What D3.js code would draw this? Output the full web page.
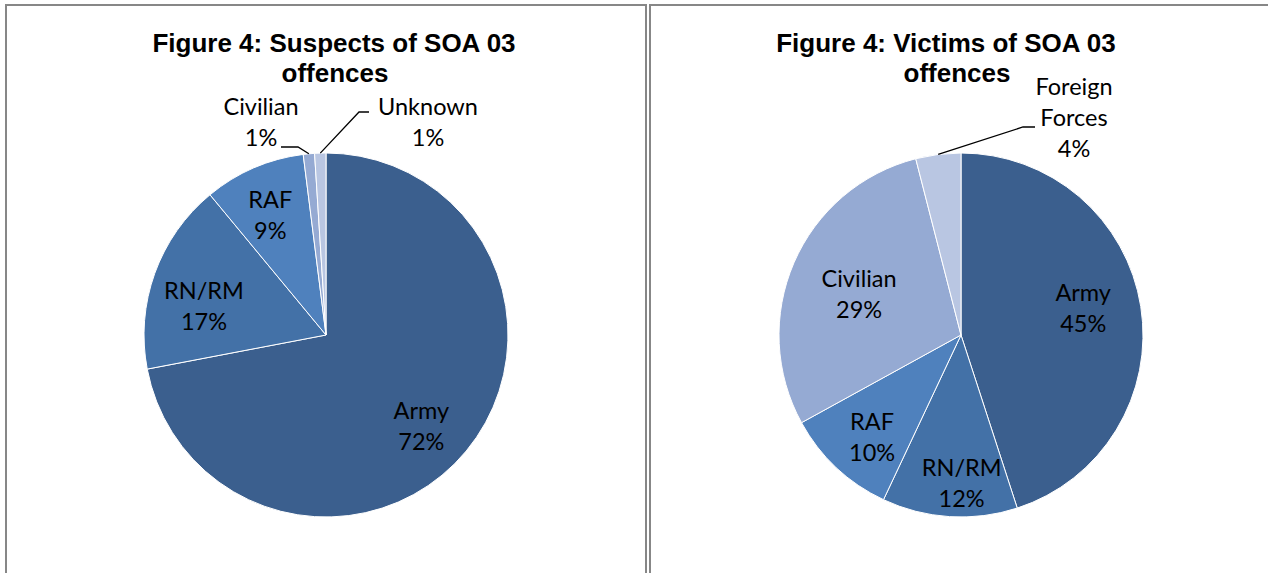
<!DOCTYPE html>
<html>
<head>
<meta charset="utf-8">
<script src="https://cdn.jsdelivr.net/npm/d3@7"></script>
<style>
  body { margin: 0; background: #fff; }
  .title { font-family: "Liberation Sans", Arial, sans-serif; font-weight: bold; font-size: 26px; fill: #000; }
  .lbl { font-family: Lato, "Open Sans", sans-serif; font-size: 23.5px; fill: #000; }
</style>
</head>
<body>
<svg id="chart" width="1268" height="573"></svg>
<script>
// Suspects chart
var suspectCats = ["Army", "RN/RM", "RAF", "Civilian", "Unknown"];
var suspectVals = [72, 17, 9, 1, 1];
// Victims chart
var victimCats = ["Army", "RN/RM", "RAF", "Civilian", "Foreign Forces"];
var victimVals = [45, 12, 10, 29, 4];

var colors = ["#3b5f8e", "#4371a7", "#4f81bd", "#95aad3", "#b9c6e2"];

var svg = d3.select("#chart");
var radius = 182;
var cy = 335;

// panel frames; nudge = small best-fit shifts of the inside labels
var panels = [
  { x: 6, w: 640, title: ["Figure 4: Suspects of SOA 03", "offences"], tx: [334, 335], cx: 326,
    cats: suspectCats, vals: suspectVals,
    nudge: [[-7, 6], [3, 16], [-3, 2]],
    outside: {
      "Civilian": { lx: -65, ly: -220, leader: [[-45, -188], [-28, -188]] },
      "Unknown":  { lx: 102, ly: -220, leader: [[43, -223], [33, -223]] }
    } },
  { x: 650, w: 640, title: ["Figure 4: Victims of SOA 03", "offences"], tx: [946, 957], cx: 961,
    cats: victimCats, vals: victimVals,
    nudge: [[-9, -6], [9, 15], [2, 5], [20, 12]],
    outside: {
      "Foreign Forces": { lx: 113, ly: -240, leader: [[74, -208], [62, -208]] }
    } }
];

panels.forEach(function(p) {
  svg.append("rect")
    .attr("x", p.x).attr("y", 5)
    .attr("width", p.w).attr("height", 600)
    .attr("fill", "none")
    .attr("stroke", "#878787")
    .attr("stroke-width", 2);

  var t = svg.append("text").attr("class", "title").attr("text-anchor", "middle");
  t.selectAll("tspan").data(p.title).enter().append("tspan")
    .attr("x", function(d, i) { return p.tx[i]; })
    .attr("y", function(d, i) { return 52 + i * 30; })
    .text(function(d) { return d; });

  var data = p.cats.map(function(c, i) { return { name: c, value: p.vals[i], color: colors[i] }; });
  var pie = d3.pie().sort(null).value(function(d) { return d.value; });
  var arcs = pie(data);
  var arc = d3.arc().innerRadius(0).outerRadius(radius);
  var labelArc = d3.arc().innerRadius(radius * 0.73).outerRadius(radius * 0.73);

  var g = svg.append("g").attr("transform", "translate(" + p.cx + "," + cy + ")");

  g.selectAll("path.slice")
    .data(arcs)
    .enter().append("path")
    .attr("class", "slice")
    .attr("d", arc)
    .attr("fill", function(d) { return d.data.color; })
    .attr("stroke", "#fff")
    .attr("stroke-width", 1);

  arcs.forEach(function(d, i) {
    var pct = d.data.value + "%";
    var o = p.outside[d.data.name];
    var lines, x, y;
    if (o) {
      lines = d.data.name.split(" ").concat([pct]);
      x = o.lx; y = o.ly;
      // leader line from slice edge
      var a = (d.startAngle + d.endAngle) / 2;
      var edge = [Math.sin(a) * radius, -Math.cos(a) * radius];
      g.append("path")
        .attr("d", d3.line()([edge, o.leader[1], o.leader[0]]))
        .attr("fill", "none")
        .attr("stroke", "#000")
        .attr("stroke-width", 1.3);
    } else {
      lines = [d.data.name, pct];
      var c = labelArc.centroid(d);
      var n = p.nudge[i] || [0, 0];
      x = c[0] + n[0];
      y = c[1] + n[1] - 7;
    }
    var txt = g.append("text").attr("class", "lbl").attr("text-anchor", "middle");
    txt.selectAll("tspan").data(lines).enter().append("tspan")
      .attr("x", x)
      .attr("y", function(s, i) { return y + i * 31; })
      .text(function(s) { return s; });
  });
});
</script>
</body>
</html>
